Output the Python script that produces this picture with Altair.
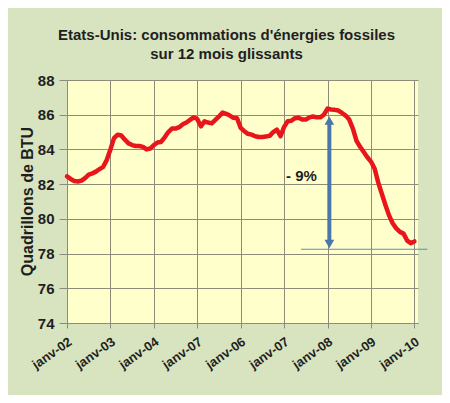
import json
import altair as alt
import pandas as pd

# ---- data ----
months = list(range(0, 97))
values = [
    82.45, 82.30, 82.18, 82.15, 82.20, 82.35, 82.55, 82.62, 82.72, 82.87,
    83.00, 83.40, 84.00, 84.65, 84.85, 84.80, 84.56, 84.35, 84.25, 84.20,
    84.20, 84.15, 84.00, 84.05, 84.25, 84.40, 84.43, 84.70, 85.00, 85.20,
    85.20, 85.28, 85.45, 85.55, 85.70, 85.85, 85.75, 85.33, 85.62, 85.55,
    85.50, 85.70, 85.90, 86.12, 86.05, 85.95, 85.82, 85.80, 85.24, 85.05,
    84.90, 84.85, 84.76, 84.72, 84.72, 84.75, 84.78, 85.00, 85.14, 84.76,
    85.30, 85.62, 85.65, 85.80, 85.82, 85.72, 85.72, 85.85, 85.90, 85.85,
    85.85, 86.00, 86.35, 86.30, 86.28, 86.24, 86.10, 85.95, 85.72, 85.20,
    84.50, 84.15, 83.85, 83.55, 83.30, 82.90, 82.10, 81.45, 80.80, 80.20,
    79.75, 79.45, 79.25, 79.15, 78.75, 78.60, 78.70,
]
tick_months = [0, 12, 24, 36, 48, 60, 72, 84, 96]
tick_labels = ["janv-02", "janv-03", "janv-04", "janv-07", "janv-06",
               "janv-07", "janv-08", "janv-09", "janv-10"]
y_ticks = [74, 76, 78, 80, 82, 84, 86, 88]

# annotation (arrow showing the fall from the peak)
arrow_month = [72.5]
arrow_from = [78.6]
arrow_to = [85.6]
arrow_tip_top = [85.66]
arrow_tip_bottom = [78.55]
base_level = [78.25]
base_from = [64.7]
base_to = [99.6]
pct_label = ["- 9%"]
pct_month = [64.8]
pct_value = [82.45]

df = pd.DataFrame({"month": months, "value": values})
arrow_df = pd.DataFrame({"m": arrow_month, "y1": arrow_from, "y2": arrow_to,
                         "top": arrow_tip_top, "bot": arrow_tip_bottom})
base_df = pd.DataFrame({"m1": base_from, "m2": base_to, "y": base_level})
txt_df = pd.DataFrame({"m": pct_month, "y": pct_value, "t": pct_label})

FONT = "Liberation Sans"
GRID = "#8c8c78"
label_expr = json.dumps(tick_labels) + "[round(datum.value / 12)]"

x_scale = alt.Scale(domain=[0, 97], nice=False, zero=False)
y_scale = alt.Scale(domain=[74, 88], nice=False, zero=False)

x_axis = alt.Axis(values=tick_months, labelExpr=label_expr, title=None,
                  labelAngle=-35, labelAlign="right", labelBaseline="middle",
                  labelPadding=12, labelOffset=3, tickSize=5, labelFont=FONT,
                  labelFontSize=13, labelFontWeight="bold",
                  labelColor="#1f1f1f",
                  grid=True, gridColor=GRID, gridWidth=1, domainColor=GRID,
                  tickColor=GRID, labelOverlap=False)
y_axis = alt.Axis(values=y_ticks, title="Quadrillons de BTU", tickSize=8,
                  labelPadding=5, labelFont=FONT, labelFontSize=15,
                  labelFontWeight="bold", labelColor="#1f1f1f",
                  labelOverlap=False,
                  titleFont=FONT, titleFontSize=16, titleFontWeight="bold",
                  titleColor="#1f1f1f", titleX=-40, titleY=121,
                  titleAngle=-90, titleBaseline="middle", titleAlign="center",
                  grid=True, gridColor=GRID, gridWidth=1, domainColor=GRID,
                  tickColor=GRID)


def X(field):
    return alt.X(field, scale=x_scale, axis=x_axis)


def Y(field):
    return alt.Y(field, scale=y_scale, axis=y_axis)


line = alt.Chart(df).mark_line(color="#e8161b", strokeWidth=4.5,
                               strokeCap="round", strokeJoin="round").encode(
    x=X("month:Q"), y=Y("value:Q"))

shaft = alt.Chart(arrow_df).mark_rule(color="#4a76ad", strokeWidth=4).encode(
    x=X("m:Q"), y=Y("y1:Q"), y2="y2:Q")
head_up = alt.Chart(arrow_df).mark_point(shape="triangle-up", filled=True,
                                         color="#4a76ad", size=95, opacity=1).encode(
    x=X("m:Q"), y=Y("top:Q"))
head_down = alt.Chart(arrow_df).mark_point(shape="triangle-down", filled=True,
                                           color="#4a76ad", size=95, opacity=1).encode(
    x=X("m:Q"), y=Y("bot:Q"))
base = alt.Chart(base_df).mark_rule(color="#5b8bc0", strokeWidth=1.2).encode(
    x=X("m1:Q"), x2="m2:Q", y=Y("y:Q"))
txt = alt.Chart(txt_df).mark_text(font=FONT, fontSize=15, fontWeight="bold",
                                  color="#1f1f1f", baseline="middle",
                                  align="center").encode(
    x=X("m:Q"), y=Y("y:Q"), text="t:N")

chart = alt.layer(line, base, shaft, head_up, head_down, txt).properties(
    width=351, height=243,
    title=alt.TitleParams(
        text=["Etats-Unis: consommations d'énergies fossiles",
              "sur 12 mois glissants"],
        font=FONT, fontSize=15, fontWeight="bold", color="#1f1f1f",
        anchor="middle", dx=-16, dy=6, offset=2, lineHeight=19,
        baseline="bottom"),
    autosize=alt.AutoSizeParams(type="none"),
    padding={"left": 59, "top": 72, "right": 24, "bottom": 72},
    background="#d8e4c0",
).configure_view(fill="#ffffcc", stroke=None)

chart.save("out.html", embed_options={"renderer": "svg", "actions": False})
